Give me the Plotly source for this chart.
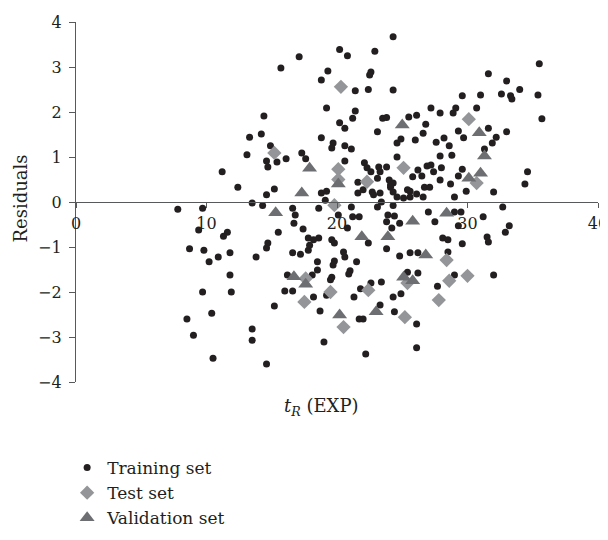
import plotly.graph_objects as go

# Training set (tR EXP, residual)
train_x = [24.3, 20.2, 20.8, 22.9, 17.1, 15.7, 19.3, 18.8, 22.6, 22.5, 21.4, 22.4, 24.3, 19.2, 21.4,
           21.2, 23.5, 23.8, 14.4, 20.2, 20.6, 23.1, 13.3, 14.2, 18.8, 19.7, 19.6, 20.6, 21.1, 24.6,
           14.9, 13.1, 17.3, 17.6, 16.1, 14.6, 15.4, 14.7, 11.2, 20.6, 22.1, 22.3, 22.6, 23.2, 23.8,
           23.3, 24.6, 12.4, 14.6, 15.2, 18.8, 19.2, 21.6, 21.6, 22.0, 22.7, 22.8, 23.1, 24.0, 24.1,
           24.3, 19.1, 13.5, 14.3,
           35.5, 31.6, 33.0, 34.0, 32.6, 33.3, 33.4, 35.4, 35.7, 29.6, 31.0, 30.7, 29.1, 28.9, 27.2,
           27.9, 25.5, 26.1, 26.8, 26.6, 26.0, 29.3, 29.7, 31.6, 33.0, 32.2, 31.9, 31.3, 27.6, 28.2,
           28.6, 24.9, 27.9, 28.8, 25.8, 26.2, 26.5, 26.9, 27.2, 27.4, 28.0, 27.9, 29.6, 29.3, 28.7,
           29.9, 32.0, 34.6, 34.4, 24.1, 24.3, 24.6, 25.1, 25.6, 25.6, 26.1, 26.7, 27.1, 26.6, 29.0,
           23.3, 25.4, 23.4, 24.3,
           7.8, 9.4, 8.7, 8.5, 9.0, 9.7, 16.6, 16.8, 18.6, 16.7, 17.4, 15.5, 11.6, 11.3, 20.1,
           20.8, 21.2, 21.7, 17.8, 18.2, 18.6, 19.6, 19.8, 17.8, 17.9, 14.7, 14.6, 9.8, 10.9, 10.2,
           11.8, 13.8, 16.6, 17.2, 18.5, 18.5, 20.5, 20.6, 19.8, 19.7, 21.5, 21.0, 20.9, 19.6, 19.5,
           11.8, 16.2, 18.1, 9.7, 11.9, 16.0, 16.6, 18.2, 19.2, 21.3, 21.8, 22.6, 23.4, 23.3, 24.3,
           24.4, 15.2, 10.4, 18.7, 21.7, 22.0, 13.5, 13.5, 19.0, 22.2, 10.5, 14.6, 21.1, 23.1, 22.4,
           23.9, 24.4, 23.8, 24.8, 24.2, 27.0, 27.5, 29.0, 29.5, 31.2, 32.7, 29.3, 33.2, 32.9, 28.1,
           28.5, 29.6, 31.5, 31.6, 23.8, 25.6, 26.2, 24.8, 28.5, 26.2, 25.4, 29.0, 32.0, 27.7, 24.9,
           26.1, 26.1]
train_y = [3.67, 3.39, 3.25, 3.35, 3.23, 2.98, 2.91, 2.71, 2.89, 2.82, 2.47, 2.50, 2.49, 2.09, 2.02,
           1.86, 1.86, 1.88, 1.91, 1.76, 1.64, 1.56, 1.44, 1.51, 1.43, 1.31, 1.20, 1.25, 1.18, 1.31,
           1.25, 1.05, 1.09, 0.96, 0.96, 0.91, 0.89, 0.78, 0.67, 0.91, 0.87, 0.76, 0.67, 0.78, 0.78,
           0.67, 1.00, 0.33, 0.16, 0.29, 0.20, 0.24, 0.44, 0.20, 0.27, 0.22, 0.16, 0.53, 0.49, 0.33,
           0.42, 0.04, -0.02, -0.08,
           3.07, 2.85, 2.69, 2.50, 2.40, 2.36, 2.29, 2.38, 1.85, 2.36, 2.38, 2.09, 2.09, 1.98, 2.09,
           1.98, 1.89, 1.93, 1.73, 1.53, 1.38, 1.58, 1.43, 1.64, 1.56, 1.44, 1.31, 1.18, 1.33, 1.42,
           1.25, 1.40, 1.02, 1.04, 0.56, 0.71, 0.58, 0.80, 0.82, 0.67, 0.76, 0.49, 0.73, 0.58, 0.40,
           0.24, 0.22, 0.67, 0.40, 0.38, 0.22, 0.11, 0.09, 0.11, 0.24, 0.18, 0.33, 0.33, 0.11, 0.11,
           0.20, 0.27, 0.00, -0.08,
           -0.16, -0.62, -1.04, -2.60, -2.96, -0.14, -0.14, -0.29, -0.14, -0.47, -0.60, -0.67, -0.67, -0.76, -0.29,
           -0.58, -0.33, -0.33, -0.80, -0.84, -0.80, -0.84, -0.91, -1.07, -0.96, -0.91, -1.02, -1.07, -1.22, -1.33,
           -1.13, -1.22, -1.13, -1.16, -1.33, -1.51, -1.11, -1.22, -1.31, -1.40, -1.33, -1.53, -1.60, -1.67, -1.73,
           -1.62, -1.62, -1.62, -2.00, -2.00, -1.98, -1.98, -2.11, -2.07, -2.11, -1.93, -1.80, -1.78, -2.29, -2.11,
           -2.44, -2.31, -2.47, -2.42, -2.60, -2.60, -2.82, -3.07, -3.11, -3.38, -3.47, -3.60, -0.11, -0.11, -0.91,
           -0.29, -0.31, -0.44, -0.47, -0.58, -0.22, -0.44, -0.22, -0.22, -0.33, -0.11, -0.53, -0.53, -0.67, -0.80,
           -0.84, -0.93, -0.78, -0.89, -1.04, -1.13, -1.13, -1.20, -1.11, -1.58, -1.56, -1.62, -1.62, -1.87, -2.04,
           -2.71, -3.24]

# Test set
test_x = [20.3, 15.2, 20.1, 20.1, 22.3, 30.1, 25.1, 30.7, 19.8, 22.4, 19.5, 17.5, 20.5, 28.4, 30.0,
          28.6, 27.8, 25.2, 25.4, 17.6]
test_y = [2.56, 1.09, 0.73, 0.50, 0.45, 1.84, 0.76, 0.42, -0.07, -1.96, -2.00, -2.22, -2.78, -1.29, -1.64,
          -1.75, -2.18, -2.56, -1.80, -1.70]

# Validation set
val_x = [17.9, 20.1, 17.3, 25.0, 30.9, 31.3, 31.0, 30.1, 15.3, 21.9, 23.9, 16.7, 17.6, 20.2, 23.0,
         28.4, 25.8, 26.8, 25.1, 25.8]
val_y = [0.75, 0.40, 0.20, 1.71, 1.54, 1.02, 0.64, 0.53, -0.24, -0.77, -0.77, -1.66, -1.83, -2.51, -2.44,
         -0.25, -0.43, -1.18, -1.67, -1.75]

y_ticks = [-4, -3, -2, -1, 0, 1, 2, 3, 4]
y_tick_labels = ["\u22124", "\u22123", "\u22122", "\u22121", "0", "1", "2", "3", "4"]
x_ticks = [0, 10, 20, 30, 40]

FONT = "DejaVu Serif"
TXT = "#231f20"
AX = "#58595b"

fig = go.Figure()
fig.add_trace(go.Scatter(x=train_x, y=train_y, mode="markers", name="Training set",
                         marker=dict(symbol="circle", size=7, color="#231f20")))
fig.add_trace(go.Scatter(x=test_x, y=test_y, mode="markers", name="Test set",
                         marker=dict(symbol="diamond", size=11, color="#939598")))
fig.add_trace(go.Scatter(x=val_x, y=val_y, mode="markers", name="Validation set",
                         marker=dict(symbol="triangle-up", size=13, color="#6d6e71")))

fig.update_layout(
    width=608, height=524,
    margin=dict(l=68, r=18, t=14, b=150, autoexpand=False),
    paper_bgcolor="white", plot_bgcolor="white",
    font=dict(family=FONT, size=16, color=TXT),
    showlegend=True,
    legend=dict(x=-0.017, y=-0.189, xanchor="left", yanchor="top",
                font=dict(family=FONT, size=17, color=TXT),
                bgcolor="rgba(0,0,0,0)", tracegroupgap=0, itemsizing="trace"),
    xaxis=dict(range=[0, 40], tickvals=x_ticks, anchor="free", position=0.5,
               showline=True, linecolor=AX, linewidth=1.3, ticks="outside", ticklen=5,
               tickcolor=AX, tickwidth=1.3, showgrid=False, zeroline=False,
               ticklabeloverflow="allow",
               ticklabelstandoff=2, tickfont=dict(family=FONT, size=16, color=TXT)),
    yaxis=dict(range=[-4, 4], tickvals=y_ticks, ticktext=y_tick_labels,
               showline=True, linecolor=AX, linewidth=1.3, ticks="outside", ticklen=6,
               tickcolor=AX, tickwidth=1.3, showgrid=False, zeroline=False,
               ticklabelstandoff=4, tickfont=dict(family=FONT, size=16, color=TXT)),
    annotations=[
        dict(text="<i>t</i><sub><i>R</i></sub> (EXP)", x=0.47, y=-0.069, xref="paper", yref="paper",
             xanchor="center", yanchor="middle", showarrow=False, font=dict(family=FONT, size=18, color=TXT)),
        dict(text="Residuals", x=-0.107, y=0.51, xref="paper", yref="paper", textangle=-90,
             xanchor="center", yanchor="middle", showarrow=False, font=dict(family=FONT, size=18, color=TXT)),
    ],
)

fig.write_html("out.html")
